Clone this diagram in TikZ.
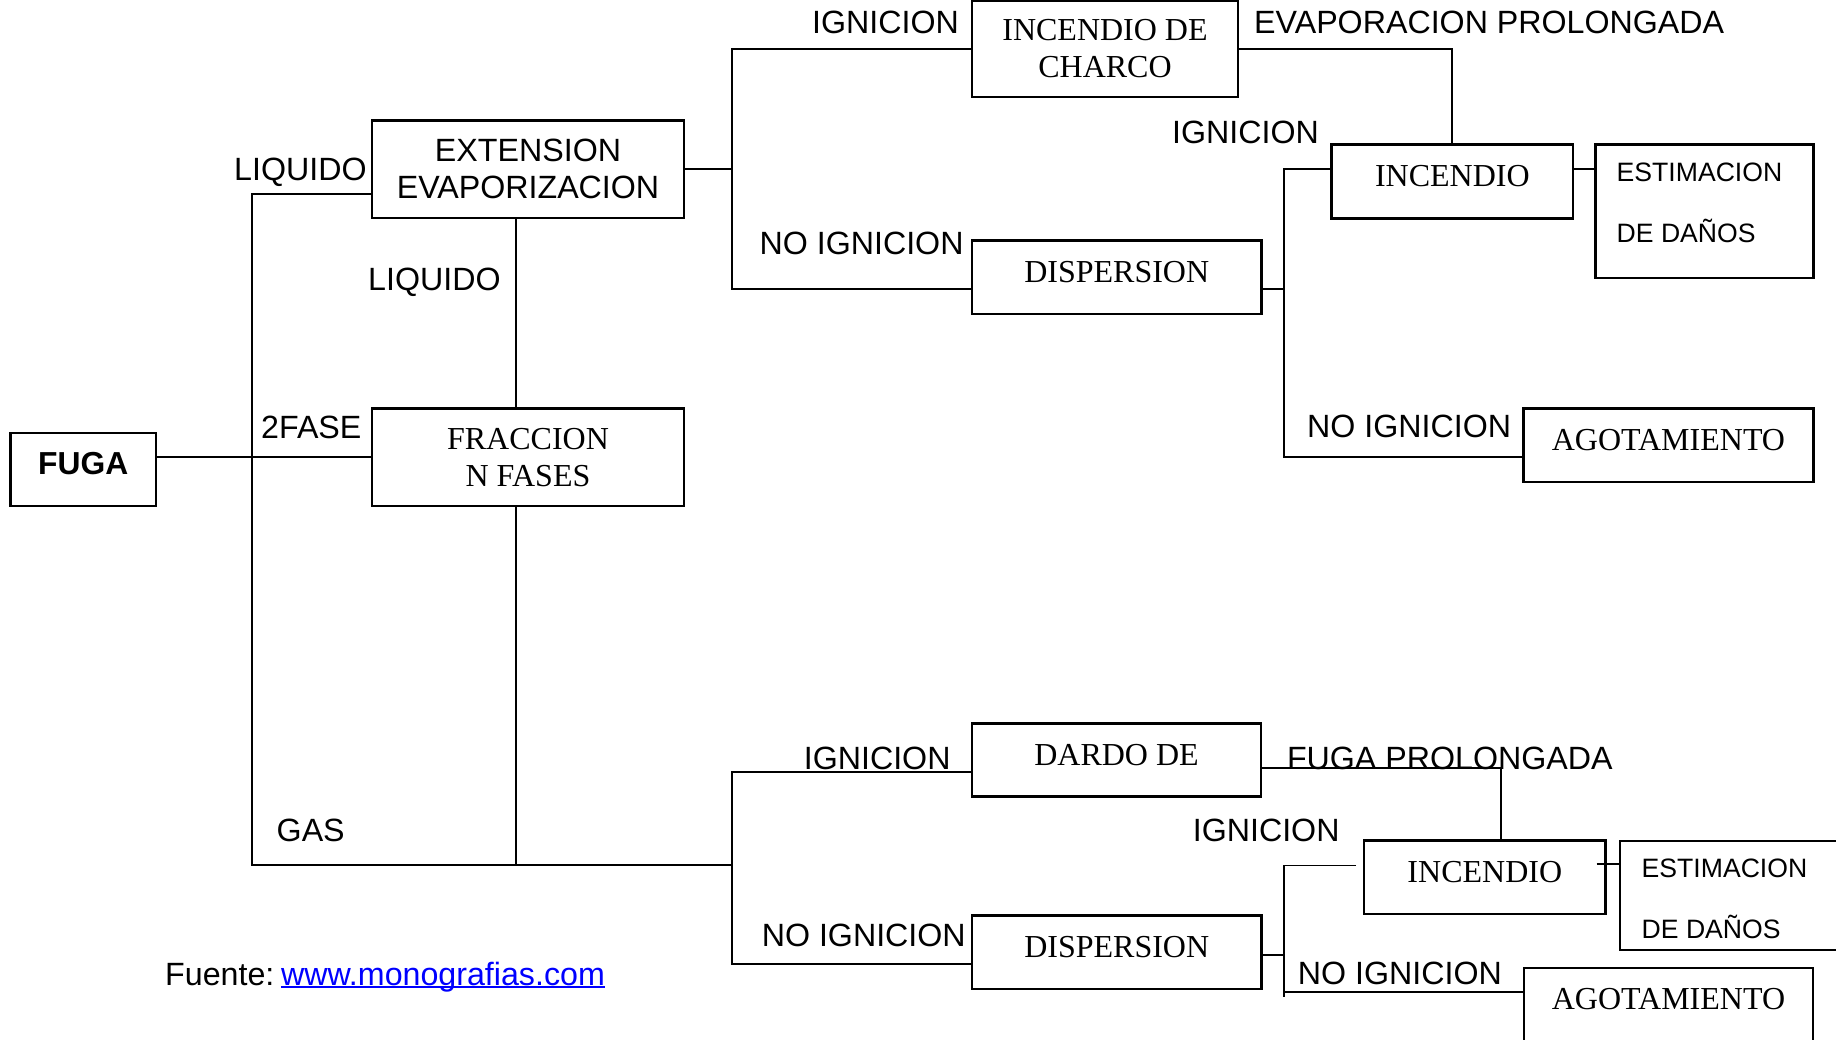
\documentclass[tikz,border=0pt]{standalone}
\usepackage{fontspec}
\setmainfont{Liberation Serif}
\newfontfamily\lsans{Liberation Sans}
\definecolor{linkblue}{RGB}{0,0,255}
\begin{document}
\begin{tikzpicture}[x=1pt,y=-1pt,
  boxbase/.style={draw, line width=2.6pt, inner sep=0pt, font=\fontsize{32}{37}\selectfont},
  onebox/.style={boxbase, text height=21.2pt, text depth=11pt},
  lbl/.style={anchor=base west, inner sep=0pt, font=\lsans\fontsize{32.2}{32.2}\selectfont},
  small/.style={anchor=base west, inner sep=0pt, font=\lsans\fontsize{26.6}{26.6}\selectfont},
  conn/.style={line width=1.8pt}]
\fill[white] (0,0) rectangle (1836,1039);
\clip (0,0) rectangle (1836,1039);

% boxes
\node[boxbase, font=\lsans\bfseries\fontsize{31.8}{31.8}\selectfont, minimum width=145.5pt, minimum height=73pt, text height=22.7pt, text depth=12pt] (fuga) at (83.25,469.5) {FUGA};
\node[boxbase, align=center, font=\lsans\fontsize{32.2}{37}\selectfont, minimum width=312pt, minimum height=97.3pt] (ext) at (528,169.35) {EXTENSION\\EVAPORIZACION};
\node[boxbase, align=center, minimum width=312pt, minimum height=97.3pt] (frac) at (528,457.35) {FRACCION\\N FASES};
\node[boxbase, align=center, minimum width=266pt, minimum height=96.3pt] (charco) at (1105,48.85) {INCENDIO DE\\CHARCO};
\node[onebox, minimum width=241.3pt, minimum height=74pt] (inc1) at (1452.35,181.3) {INCENDIO};
\node[boxbase, minimum width=218pt, minimum height=133.7pt] (est1) at (1704.5,211.15) {};
\node[small] (est1a) at (1616.5,181.7) {ESTIMACION};
\node[small] (est1b) at (1616.5,242.3) {DE DAÑOS};
\node[onebox, minimum width=289.5pt, minimum height=73.3pt] (disp1) at (1116.75,277.35) {DISPERSION};
\node[onebox, minimum width=290pt, minimum height=73.3pt] (agot1) at (1668.45,445.35) {AGOTAMIENTO};
\node[onebox, minimum width=289pt, minimum height=73.4pt] (dardo) at (1116.5,760) {DARDO DE};
\node[onebox, minimum width=241.6pt, minimum height=73.3pt] (inc2) at (1484.8,877.35) {INCENDIO};
\node[boxbase, minimum width=230pt, minimum height=109pt] (est2) at (1735,895.5) {};
\node[small] (est2a) at (1641.5,877.7) {ESTIMACION};
\node[small] (est2b) at (1641.5,938.3) {DE DAÑOS};
\node[onebox, minimum width=289.5pt, minimum height=73.3pt] (disp2) at (1116.75,952.35) {DISPERSION};
\node[onebox, minimum width=289pt, minimum height=73.3pt] (agot2) at (1668.5,1004.65) {AGOTAMIENTO};

% labels
\node[lbl] (liq1) at (234,180) {LIQUIDO};
\node[lbl] (liq2) at (368,290) {LIQUIDO};
\node[lbl] (fase) at (261,438) {2FASE};
\node[lbl] (gas) at (276.5,841.7) {GAS};
\node[lbl] (ig1) at (812,33.3) {IGNICION};
\node[lbl] (evp) at (1254,33.3) {EVAPORACION PROLONGADA};
\node[lbl] (ig2) at (1172,143.3) {IGNICION};
\node[lbl] (nig1) at (759.4,254) {NO IGNICION};
\node[lbl] (nig2) at (1307,437.3) {NO IGNICION};
\node[lbl] (ig3) at (803.6,769.3) {IGNICION};
\node[lbl] (fpr) at (1286.8,769.3) {FUGA PROLONGADA};
\node[lbl] (ig4) at (1192.6,841.7) {IGNICION};
\node[lbl] (nig3) at (761.6,946.7) {NO IGNICION};
\node[lbl] (nig4) at (1297.7,984) {NO IGNICION};
\node[lbl] (fuente) at (165,985) {Fuente:};
\node[lbl, text=linkblue] (link) at (280.8,985) {www.monografias.com};
\draw[linkblue, line width=1.5pt] ([yshift=-2pt]link.base west) -- ([yshift=-2pt]link.base east);

% junction coordinates
\coordinate (tb) at (252,865);
\coordinate (gj) at (732,865);
\coordinate (uj) at (732,169.35);
\coordinate (u2) at (732,288.7);
\coordinate (r1t) at (1284,169.3);
\coordinate (r1b) at (1284,457.3);
\coordinate (l1) at (732,772.3);
\coordinate (l2) at (732,964);
\coordinate (d1) at (1500.6,768.3);
\coordinate (r2m) at (1284,955);
\coordinate (r2t) at (1284,865.5);
\coordinate (r2g) at (1356,865.5);
\coordinate (r2a) at (1284,991.7);
\coordinate (r2b) at (1284,997);
\coordinate (e2) at (1596.7,864);

% connectors
\draw[conn] (fuga.east |- frac.west) -- (frac.west);
\draw[conn] ([yshift=25.3pt]ext.south west) -| (tb) -- (gj);
\draw[conn] ([xshift=-12pt]ext.south) -- ([xshift=-12pt]frac.north);
\draw[conn] ([xshift=-12pt]frac.south) -- ([xshift=-12pt]frac.south |- tb);
\draw[conn] (ext.east) -- (uj);
\draw[conn] (charco.west) -| (u2) -- (u2 -| disp1.west);
\draw[conn] (charco.east) -| (inc1.north);
\draw[conn] (u2 -| disp1.east) -- (u2 -| r1t);
\draw[conn] (r1t -| inc1.west) -- (r1t) -- (r1b) -- (r1b -| agot1.west);
\draw[conn] (r1t -| inc1.east) -- (r1t -| est1.west);
\draw[conn] (l1 -| dardo.west) -- (l1) -- (l2) -- (l2 -| disp2.west);
\draw[conn] (d1 -| dardo.east) -- (d1) -- (d1 |- inc2.north);
\draw[conn] (r2m -| disp2.east) -- (r2m);
\draw[conn] (r2g) -- (r2t) -- (r2b);
\draw[conn] (r2a) -- (r2a -| agot2.west);
\draw[conn] (e2) -- (e2 -| est2.west);
\end{tikzpicture}
\end{document}
